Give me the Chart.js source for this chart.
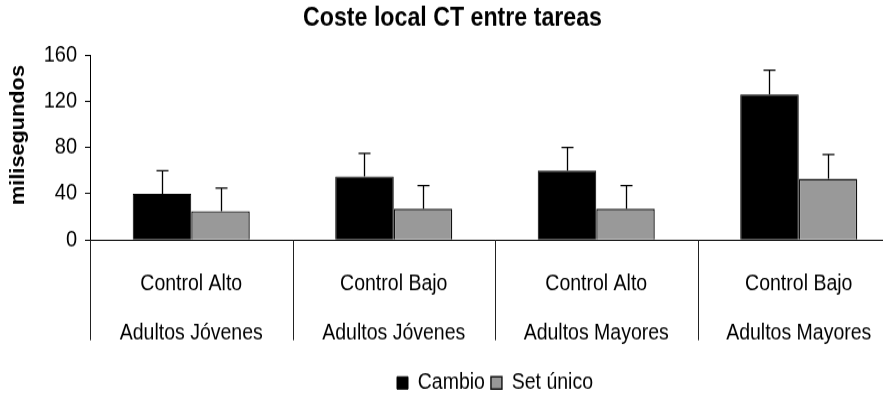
<!DOCTYPE html>
<html lang="es">
<head>
<meta charset="utf-8">
<title>Coste local CT entre tareas</title>
<script src="https://cdn.jsdelivr.net/npm/chart.js@4.4.1/dist/chart.umd.min.js"></script>
<style>
  html, body { margin: 0; padding: 0; background: #fff; overflow: hidden; }
  #wrap { width: 900px; height: 400px; }
</style>
</head>
<body>
<div id="wrap">
  <!-- drawn at 357px tall, shown 400px tall: gives the tall, narrow lettering -->
  <canvas id="chart" width="900" height="357" style="width:900px;height:400px;display:block"></canvas>
</div>
<script>
// Task conditions and age groups (two label rows under each category)
const conditions = ['Control Alto', 'Control Bajo', 'Control Alto', 'Control Bajo'];
const groups = ['Adultos Jóvenes', 'Adultos Jóvenes', 'Adultos Mayores', 'Adultos Mayores'];

// Mean local switch cost (ms) and upper error
const cambio = [40, 55, 60, 126];
const cambioErr = [20, 20, 20, 21];
const setUnico = [25, 27, 27, 53];
const setUnicoErr = [20, 20, 20, 21];

// Value axis
const yMin = 0;
const yMax = 160;
const yStep = 40;

const FONT = "'Liberation Sans', Arial, Helvetica, sans-serif";
const errors = [cambioErr, setUnicoErr];

// One-sided (upward) error bars with a short cap
const errorBars = {
  id: 'errorBars',
  afterDatasetsDraw(chart) {
    const ctx = chart.ctx;
    const y = chart.scales.y;
    ctx.save();
    ctx.strokeStyle = '#000';
    ctx.lineWidth = 1.3;
    chart.data.datasets.forEach((ds, di) => {
      const meta = chart.getDatasetMeta(di);
      meta.data.forEach((bar, i) => {
        const top = y.getPixelForValue(ds.data[i] + errors[di][i]);
        const x = Math.round(bar.x) + 0.5;
        ctx.beginPath();
        ctx.moveTo(x, bar.y);
        ctx.lineTo(x, top);
        ctx.moveTo(x - 6, top);
        ctx.lineTo(x + 6, top);
        ctx.stroke();
      });
    });
    ctx.restore();
  }
};

// Vertical dividers between categories, running down through the label rows
const dividers = {
  id: 'dividers',
  afterDraw(chart) {
    const ctx = chart.ctx;
    const x = chart.scales.x;
    const area = chart.chartArea;
    const half = (x.getPixelForValue(1) - x.getPixelForValue(0)) / 2;
    ctx.save();
    ctx.strokeStyle = '#222';
    ctx.lineWidth = 1;
    for (let i = 0; i <= conditions.length; i++) {
      const px = Math.round(x.getPixelForValue(i) - half) + 0.5;
      ctx.beginPath();
      ctx.moveTo(px, area.bottom);
      ctx.lineTo(px, area.bottom + 89.5);
      ctx.stroke();
    }
    ctx.restore();
  }
};

// Rotated value-axis title
const yTitle = {
  id: 'yTitle',
  afterDraw(chart) {
    const ctx = chart.ctx;
    ctx.save();
    ctx.translate(19, 120.5);
    ctx.rotate(-Math.PI / 2);
    ctx.font = 'bold 19.4px ' + FONT;
    ctx.fillStyle = '#000';
    ctx.textAlign = 'center';
    ctx.textBaseline = 'middle';
    ctx.fillText('milisegundos', 0, 0);
    ctx.restore();
  }
};

new Chart(document.getElementById('chart'), {
  type: 'bar',
  data: {
    labels: conditions.map((c, i) => [c, groups[i]]),
    datasets: [
      {
        label: 'Cambio',
        data: cambio,
        backgroundColor: '#000000',
        borderColor: '#000000',
        borderWidth: 1
      },
      {
        label: 'Set único',
        data: setUnico,
        backgroundColor: '#999999',
        borderColor: '#111111',
        borderWidth: 1.4
      }
    ]
  },
  options: {
    responsive: false,
    animation: false,
    events: [],
    layout: { padding: { left: 5, right: 0, top: 0, bottom: -4.5 } },
    datasets: {
      bar: { categoryPercentage: 0.578, barPercentage: 1.0 }
    },
    plugins: {
      title: {
        display: true,
        text: 'Coste local CT entre tareas',
        color: '#000',
        font: { family: FONT, size: 23.2, weight: 'bold', lineHeight: 1.2 },
        padding: { top: 3, bottom: 18.3 }
      },
      legend: {
        display: true,
        position: 'bottom',
        fullSize: false,
        labels: {
          color: '#000',
          font: { family: FONT, size: 19.5 },
          boxWidth: 11,
          boxHeight: 11,
          padding: 6
        }
      },
      tooltip: { enabled: false }
    },
    scales: {
      x: {
        offset: true,
        grid: { display: false },
        border: { display: true, color: '#000', width: 1 },
        ticks: {
          color: '#000',
          font: { family: FONT, size: 19.5, lineHeight: 44.6 / 19.5 },
          padding: 8.9,
          maxRotation: 0,
          autoSkip: false
        },
        afterFit(scale) { scale.height = 111.8; }
      },
      y: {
        min: yMin,
        max: yMax,
        grid: {
          display: true,
          drawOnChartArea: false,
          drawTicks: true,
          tickLength: 5,
          color: '#000'
        },
        border: { display: true, color: '#000', width: 1 },
        ticks: {
          stepSize: yStep,
          color: '#000',
          font: { family: FONT, size: 20 },
          padding: 8
        },
        afterFit(scale) { scale.width = 85; }
      }
    }
  },
  plugins: [errorBars, dividers, yTitle]
});
</script>
</body>
</html>
